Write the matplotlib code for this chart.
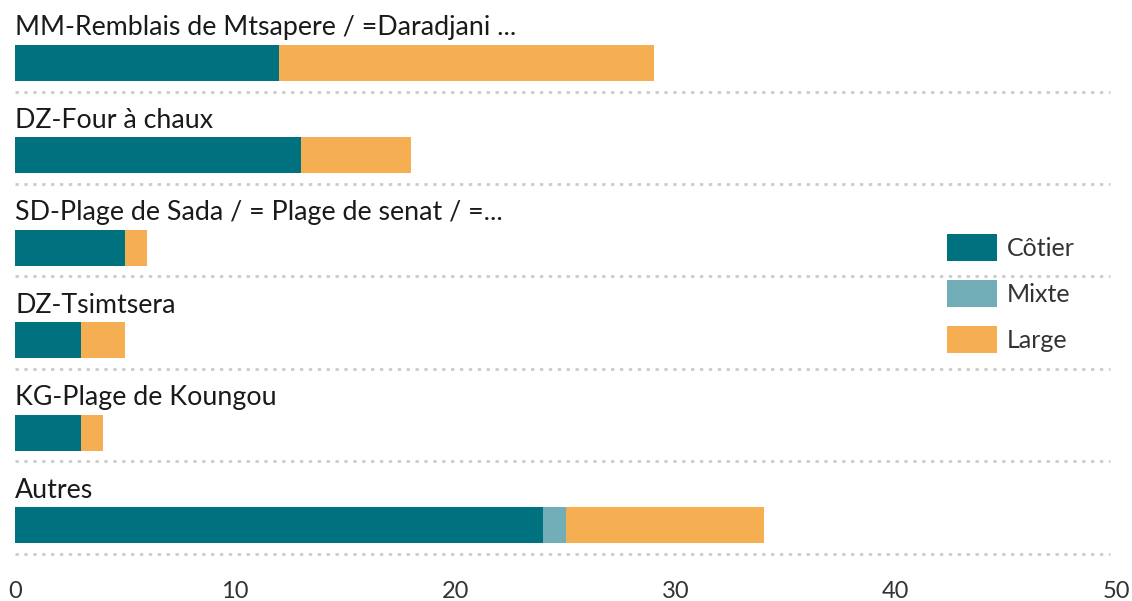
import matplotlib
matplotlib.use("Agg")
import matplotlib.pyplot as plt
from matplotlib.patches import Patch

categories = [
    "MM-Remblais de Mtsapere / =Daradjani ...",
    "DZ-Four à chaux",
    "SD-Plage de Sada / = Plage de senat / =...",
    "DZ-Tsimtsera",
    "KG-Plage de Koungou",
    "Autres",
]
series_names = ["Côtier", "Mixte", "Large"]
cotier = [12, 13, 5, 3, 3, 24]
mixte = [0, 0, 0, 0, 0, 1]
large = [17, 5, 1, 2, 1, 9]
xticks = [0, 10, 20, 30, 40, 50]

colors = ["#00727F", "#72AEB7", "#F6AE52"]

plt.rcParams['font.family'] = ['Lato', 'DejaVu Sans']
W, H = 1132, 601
fig = plt.figure(figsize=(W / 100, H / 100), dpi=100)
ax_bottom_px = 560
ax = fig.add_axes([15 / W, (H - ax_bottom_px) / H, (1116 - 15) / W, ax_bottom_px / H])
ax.set_xlim(0, 50)
ax.set_ylim(ax_bottom_px, 0)

pitch = 92.4
bar_h = 36
lab_fs = 19.3
for i, cat in enumerate(categories):
    yc = 63 + i * pitch
    left = 0
    for vals, col in zip([cotier, mixte, large], colors):
        v = vals[i]
        if v > 0:
            ax.barh(yc, v, left=left, height=bar_h, color=col, edgecolor='none')
        left += v
    ax.text(0, 28 + i * pitch, cat, fontsize=lab_fs, fontweight='normal', color='#1a1a1a',
            va='center', ha='left')
    ax.axhline(91.5 + i * pitch, xmin=0, xmax=(1110 - 15) / (1116 - 15), color='#cccccc',
               lw=2, linestyle=(0, (1.2, 2)), zorder=0)

ax.set_xticks(xticks)
ax.set_xticklabels([str(t) for t in xticks], fontsize=17, fontweight='normal', color='#333333')
ax.tick_params(axis='x', length=0, pad=15)
ax.set_yticks([])
for s in ax.spines.values():
    s.set_visible(False)

handles = [Patch(facecolor=c, edgecolor='none', label=n) for c, n in zip(colors, series_names)]
fs = 18
leg = fig.legend(handles=handles, loc='upper left', bbox_to_anchor=(947 / W, 1 - 234 / H),
                 frameon=False, prop={'weight': 'normal', 'size': fs},
                 handlelength=50 / (fs * 1.389), handleheight=32 / (fs * 1.389),
                 labelspacing=0.77, handletextpad=0.4, borderpad=0, borderaxespad=0)
for t in leg.get_texts():
    t.set_color('#333333')

fig.savefig("out.png", dpi=100)
